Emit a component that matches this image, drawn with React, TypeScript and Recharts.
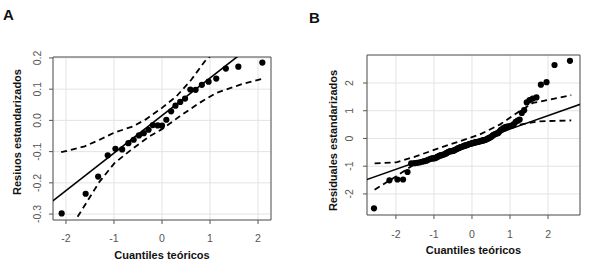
import React from "react";
import {
  ScatterChart,
  Scatter,
  XAxis,
  YAxis,
  CartesianGrid,
  ReferenceArea,
  Label,
} from "recharts";

const FONT = "'Liberation Sans', Arial, sans-serif";

// Panel A: residuos estandarizados (n = 27)
const aTheo = [
  -2.09, -1.59, -1.33, -1.13, -0.97, -0.83, -0.7, -0.59, -0.48, -0.38, -0.28,
  -0.19, -0.09, 0, 0.09, 0.19, 0.28, 0.38, 0.48, 0.59, 0.7, 0.83, 0.97, 1.13,
  1.33, 1.59, 2.09,
];
const aResid = [
  -0.298, -0.235, -0.18, -0.112, -0.091, -0.093, -0.073, -0.062, -0.048,
  -0.041, -0.03, -0.015, -0.016, -0.017, 0.002, 0.029, 0.047, 0.059, 0.07,
  0.099, 0.098, 0.114, 0.124, 0.134, 0.166, 0.172, 0.185,
];
const aFitX = [-2.3, 2.3];
const aFitY = [-0.261, 0.292];
const aUpperX = [-2.1, -1.61, -1.3, -0.99, -0.6, -0.33, 0, 0.3, 0.61, 0.89, 1.0];
const aUpperY = [-0.102, -0.083, -0.062, -0.039, -0.019, 0.004, 0.04, 0.077, 0.13, 0.189, 0.205];
const aLowerX = [-2.09, -1.82, -1.58, -1.3, -0.99, -0.6, -0.26, 0, 0.37, 0.78, 1.13, 1.62, 2.1];
const aLowerY = [-0.39, -0.324, -0.265, -0.196, -0.137, -0.089, -0.051, -0.028, 0.013, 0.056, 0.088, 0.114, 0.134];
const aXTicks = [-2, -1, 0, 1, 2];
const aYTicks = [-0.3, -0.2, -0.1, 0, 0.1, 0.2];

// Panel B: residuales estandarizados (n = 100)
const bTheo = [
  -2.576, -2.17, -1.96, -1.812, -1.695, -1.598, -1.514, -1.44, -1.372, -1.311,
  -1.254, -1.2, -1.15, -1.103, -1.058, -1.015, -0.974, -0.935, -0.896, -0.86,
  -0.824, -0.789, -0.755, -0.722, -0.69, -0.659, -0.628, -0.598, -0.568, -0.539,
  -0.51, -0.482, -0.454, -0.426, -0.399, -0.372, -0.345, -0.319, -0.292, -0.266,
  -0.24, -0.215, -0.189, -0.164, -0.138, -0.113, -0.088, -0.063, -0.038, -0.013,
  0.013, 0.038, 0.063, 0.088, 0.113, 0.138, 0.164, 0.189, 0.215, 0.24,
  0.266, 0.292, 0.319, 0.345, 0.372, 0.399, 0.426, 0.454, 0.482, 0.51,
  0.539, 0.568, 0.598, 0.628, 0.659, 0.69, 0.722, 0.755, 0.789, 0.824,
  0.86, 0.896, 0.935, 0.974, 1.015, 1.058, 1.103, 1.15, 1.2, 1.254,
  1.311, 1.372, 1.44, 1.514, 1.598, 1.695, 1.812, 1.96, 2.17, 2.576,
];
const bResid = [
  -2.52, -1.51, -1.48, -1.48, -1.21, -0.9, -0.89, -0.88, -0.86, -0.84,
  -0.82, -0.8, -0.77, -0.74, -0.72, -0.72, -0.71, -0.69, -0.66, -0.63,
  -0.61, -0.6, -0.58, -0.57, -0.55, -0.52, -0.49, -0.47, -0.46, -0.46,
  -0.45, -0.44, -0.42, -0.4, -0.38, -0.36, -0.34, -0.33, -0.31, -0.3,
  -0.29, -0.27, -0.26, -0.25, -0.24, -0.23, -0.21, -0.2, -0.19, -0.18,
  -0.17, -0.16, -0.15, -0.14, -0.13, -0.13, -0.12, -0.11, -0.1, -0.09,
  -0.08, -0.07, -0.06, -0.05, -0.04, -0.02, 0.0, 0.02, 0.04, 0.06,
  0.1, 0.13, 0.15, 0.17, 0.18, 0.2, 0.25, 0.3, 0.33, 0.37,
  0.4, 0.42, 0.43, 0.44, 0.45, 0.47, 0.52, 0.6, 0.64, 0.68,
  0.92, 1.02, 1.3, 1.38, 1.44, 1.48, 1.94, 2.03, 2.65, 2.8,
];
const bFitX = [-2.8, 2.9];
const bFitY = [-1.5, 1.26];
const bUpperX = [-2.56, -1.99, -1.46, -0.85, -0.32, 0.2, 0.73, 1.25, 1.6, 2.61];
const bUpperY = [-0.9, -0.86, -0.64, -0.34, -0.1, 0.14, 0.5, 0.98, 1.28, 1.56];
const bLowerX = [-2.56, -1.99, -1.46, -0.85, -0.32, 0.2, 0.73, 1.25, 1.78, 2.61];
const bLowerY = [-1.85, -1.36, -0.88, -0.54, -0.28, -0.04, 0.2, 0.5, 0.62, 0.65];
const bXTicks = [-2, -1, 0, 1, 2];
const bYTicks = [-2, -1, 0, 1, 2];

const zip = (xs: number[], ys: number[]) => xs.map((x, i) => ({ x, y: ys[i] }));

const Dot = (p: any) => <circle cx={p.cx} cy={p.cy} r={3.1} fill="#000" />;
const NoDot = () => <g />;

const XTick = ({ x, y, payload }: any) => (
  <text x={x} y={y} dy="0.71em" textAnchor="middle" fontSize={10.5} fill="#555" fontFamily={FONT}>
    {payload.value}
  </text>
);

const makeYTick = (fmt: (v: number) => string) => ({ x, y, payload }: any) => (
  <text
    x={x}
    y={y}
    transform={`rotate(-90 ${x} ${y})`}
    textAnchor="middle"
    fontSize={10.5}
    fill="#555"
    fontFamily={FONT}
  >
    {fmt(payload.value)}
  </text>
);

const XTitle = ({ viewBox, value, down }: any) => {
  const cx = viewBox.x + viewBox.width / 2;
  const cy = viewBox.y + down;
  return (
    <text x={cx} y={cy} textAnchor="middle" dominantBaseline="central" fontSize={11} fontWeight="bold" fontFamily={FONT} fill="#111">
      {value}
    </text>
  );
};

const YTitle = ({ viewBox, value, left, shift }: any) => {
  const cx = viewBox.x + viewBox.width - left;
  const cy = viewBox.y + viewBox.height / 2 + shift;
  return (
    <text
      x={cx}
      y={cy}
      transform={`rotate(-90 ${cx} ${cy})`}
      textAnchor="middle"
      dominantBaseline="central"
      fontSize={11}
      fontWeight="bold"
      fontFamily={FONT}
      fill="#111"
    >
      {value}
    </text>
  );
};

interface PanelProps {
  points: { x: number; y: number }[];
  fit: { x: number; y: number }[];
  upper: { x: number; y: number }[];
  lower: { x: number; y: number }[];
  xDomain: [number, number];
  yDomain: [number, number];
  xTicks: number[];
  yTicks: number[];
  yFmt: (v: number) => string;
  margin: { top: number; right: number; bottom: number; left: number };
  yLabel: string;
  xTickMargin: number;
  yTickMargin: number;
  yTitleLeft: number;
  yTitleShift: number;
}

const Panel: React.FC<PanelProps> = (p) => {
  const dash = { stroke: "#000", strokeWidth: 1.8, strokeDasharray: "6 4" };
  return (
    <ScatterChart width={295} height={265} margin={p.margin}>
      <CartesianGrid stroke="#e3e3e3" strokeWidth={1} />
      <XAxis
        type="number"
        dataKey="x"
        domain={p.xDomain}
        ticks={p.xTicks}
        allowDataOverflow
        height={30}
        axisLine={false}
        tickLine={{ stroke: "#555" }}
        tickSize={4}
        tickMargin={p.xTickMargin}
        tick={<XTick />}
        interval={0}
      >
        <Label content={<XTitle value="Cuantiles teóricos" down={35} />} />
      </XAxis>
      <YAxis
        type="number"
        dataKey="y"
        domain={p.yDomain}
        ticks={p.yTicks}
        allowDataOverflow
        width={30}
        axisLine={false}
        tickLine={{ stroke: "#555" }}
        tickSize={4}
        tickMargin={p.yTickMargin}
        tick={makeYTick(p.yFmt)}
        interval={0}
      >
        <Label content={<YTitle value={p.yLabel} left={p.yTitleLeft} shift={p.yTitleShift} />} />
      </YAxis>
      <ReferenceArea
        x1={p.xDomain[0]}
        x2={p.xDomain[1]}
        y1={p.yDomain[0]}
        y2={p.yDomain[1]}
        fill="none"
        stroke="#555"
        strokeWidth={1}
        strokeOpacity={1}
      />
      <Scatter data={p.upper} line={dash} shape={NoDot} isAnimationActive={false} />
      <Scatter data={p.lower} line={dash} shape={NoDot} isAnimationActive={false} />
      <Scatter data={p.fit} line={{ stroke: "#000", strokeWidth: 1.6 }} shape={NoDot} isAnimationActive={false} />
      <Scatter data={p.points} shape={Dot} isAnimationActive={false} />
    </ScatterChart>
  );
};

const letter: React.CSSProperties = {
  position: "absolute",
  fontFamily: FONT,
  fontWeight: "bold",
  fontSize: 15,
  color: "#111",
  lineHeight: "15px",
};

export default function App() {
  return (
    <div style={{ position: "absolute", left: 0, top: 0, width: 590, height: 265, background: "#fff" }}>
      <div style={{ ...letter, left: 3, top: 7 }}>A</div>
      <div style={{ ...letter, left: 309, top: 10 }}>B</div>
      <div style={{ position: "absolute", left: 0, top: 0 }}>
        <Panel
          points={zip(aTheo, aResid)}
          fit={zip(aFitX, aFitY)}
          upper={zip(aUpperX, aUpperY)}
          lower={zip(aLowerX, aLowerY)}
          xDomain={[-2.27, 2.27]}
          yDomain={[-0.319, 0.203]}
          xTicks={aXTicks}
          yTicks={aYTicks}
          yFmt={(v) => v.toFixed(1)}
          margin={{ top: 57, right: 24, bottom: 15, left: 23 }}
          yLabel="Resiuos estandarizados"
          xTickMargin={11}
          yTickMargin={8}
          yTitleLeft={36}
          yTitleShift={-6.5}
        />
      </div>
      <div style={{ position: "absolute", left: 295, top: 0 }}>
        <Panel
          points={zip(bTheo, bResid)}
          fit={zip(bFitX, bFitY)}
          upper={zip(bUpperX, bUpperY)}
          lower={zip(bLowerX, bLowerY)}
          xDomain={[-2.76, 2.84]}
          yDomain={[-2.76, 3.01]}
          xTicks={bXTicks}
          yTicks={bYTicks}
          yFmt={(v) => String(v)}
          margin={{ top: 55, right: 10, bottom: 20, left: 42 }}
          yLabel="Residuales estandarizados"
          xTickMargin={12}
          yTickMargin={10}
          yTitleLeft={34}
          yTitleShift={5.5}
        />
      </div>
    </div>
  );
}
